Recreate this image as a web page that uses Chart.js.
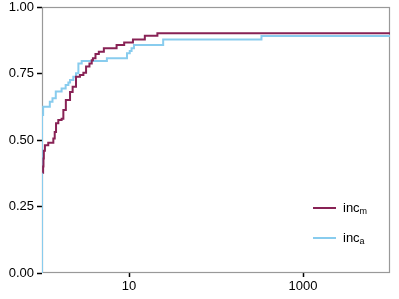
<!DOCTYPE html>
<html lang="en">
<head>
  <meta charset="UTF-8">
  <title>inc curves</title>
  <style>
    body { margin: 0; background: #fff; }
    .chart-container { width: 399px; height: 299px; }
  </style>
</head>
<body>
  <div class="chart-container">
    <canvas id="incChart"></canvas>
  </div>

  <script src="https://cdn.jsdelivr.net/npm/chart.js"></script>
  <script>
    // series: x where each step happens, y the new level
    const mX = [1.02, 1.03, 1.04, 1.05, 1.08, 1.18, 1.35, 1.4, 1.45, 1.54, 1.68, 1.76, 1.88, 2.1, 2.25, 2.46, 2.73, 2.99, 3.21, 3.51, 3.73, 3.85, 4.12, 4.5, 5.14, 7.2, 8.8, 11.1, 15.2, 21.2, 10000];
    const mY = [0.377, 0.40, 0.43, 0.46, 0.48, 0.49, 0.506, 0.53, 0.563, 0.575, 0.58, 0.613, 0.65, 0.68, 0.70, 0.738, 0.744, 0.753, 0.776, 0.788, 0.80, 0.807, 0.823, 0.832, 0.845, 0.857, 0.867, 0.878, 0.892, 0.901, 0.901];

    const aX = [1, 1, 1.03, 1.23, 1.32, 1.44, 1.68, 1.87, 2.01, 2.1, 2.29, 2.46, 2.62, 2.86, 5.57, 9.48, 10.2, 10.7, 11.4, 24.7, 333, 10000];
    const aY = [0, 0.594, 0.625, 0.644, 0.657, 0.682, 0.694, 0.707, 0.716, 0.726, 0.738, 0.751, 0.788, 0.797, 0.807, 0.826, 0.835, 0.845, 0.857, 0.878, 0.891, 0.891];

    const xTicks = [10, 1000];
    const yTicks = [0, 0.25, 0.5, 0.75, 1];

    const seriesNames = [['inc', 'm'], ['inc', 'a']];
    const seriesColors = ['#882255', '#88CCEE'];

    const toPoints = (xs, ys) => xs.map((x, i) => ({ x: x, y: ys[i] }));

    // box round the plot area
    const boxPlugin = {
      id: 'box',
      beforeDatasetsDraw(chart) {
        const { ctx, chartArea: a } = chart;
        ctx.save();
        ctx.strokeStyle = '#999';
        ctx.lineWidth = 1.2;
        ctx.strokeRect(a.left + 0.5, a.top + 0.5, a.right - a.left - 1, a.bottom - a.top - 1);
        ctx.restore();
      }
    };

    // legend with subscripts, lower right inside the plot
    const subLegend = {
      id: 'subLegend',
      afterDraw(chart) {
        const { ctx, chartArea: a } = chart;
        ctx.save();
        seriesNames.forEach((name, i) => {
          const y = a.bottom - 65 + i * 30;
          const x0 = a.right - 77;
          ctx.strokeStyle = seriesColors[i];
          ctx.lineWidth = 2;
          ctx.beginPath();
          ctx.moveTo(x0, y);
          ctx.lineTo(x0 + 23, y);
          ctx.stroke();
          ctx.fillStyle = '#000';
          ctx.textBaseline = 'middle';
          ctx.font = '13px "Liberation Sans", Arial, sans-serif';
          ctx.fillText(name[0], x0 + 30, y);
          const w = ctx.measureText(name[0]).width;
          ctx.font = '9px "Liberation Sans", Arial, sans-serif';
          ctx.fillText(name[1], x0 + 30 + w, y + 4);
        });
        ctx.restore();
      }
    };

    const ctx = document.getElementById('incChart').getContext('2d');
    new Chart(ctx, {
      type: 'line',
      data: {
        datasets: [{
          label: 'inc_m',
          data: toPoints(mX, mY),
          borderColor: seriesColors[0],
          borderWidth: 2,
          pointRadius: 0,
          stepped: true,
          fill: false
        }, {
          label: 'inc_a',
          data: toPoints(aX, aY),
          borderColor: seriesColors[1],
          borderWidth: 2,
          pointRadius: 0,
          stepped: true,
          fill: false
        }]
      },
      options: {
        responsive: true,
        maintainAspectRatio: false,
        animation: false,
        layout: { padding: { top: 7, right: 9, left: 0, bottom: 0 } },
        plugins: {
          legend: { display: false },
          tooltip: { enabled: false }
        },
        scales: {
          x: {
            type: 'logarithmic',
            min: 1,
            max: 10000,
            afterBuildTicks: axis => { axis.ticks = xTicks.map(v => ({ value: v })); },
            afterFit: axis => { axis.height = 26; axis.paddingLeft = 0; axis.paddingRight = 0; },
            grid: { drawOnChartArea: false, tickLength: 4, tickWidth: 1.5, tickColor: '#000', color: '#000' },
            border: { display: false },
            ticks: {
              color: '#000',
              padding: 2,
              maxRotation: 0,
              font: { family: '"Liberation Sans", Arial, sans-serif', size: 13 },
              callback: v => String(v)
            }
          },
          y: {
            min: 0,
            max: 1,
            afterBuildTicks: axis => { axis.ticks = yTicks.map(v => ({ value: v })); },
            afterFit: axis => { axis.width = 42; axis.paddingTop = 0; axis.paddingBottom = 0; },
            grid: { drawOnChartArea: false, tickLength: 5, tickWidth: 1.5, tickColor: '#000', color: '#000' },
            border: { display: false },
            ticks: {
              color: '#000',
              padding: 3,
              font: { family: '"Liberation Sans", Arial, sans-serif', size: 13 },
              callback: v => v.toFixed(2)
            }
          }
        }
      },
      plugins: [boxPlugin, subLegend]
    });
  </script>
</body>
</html>
